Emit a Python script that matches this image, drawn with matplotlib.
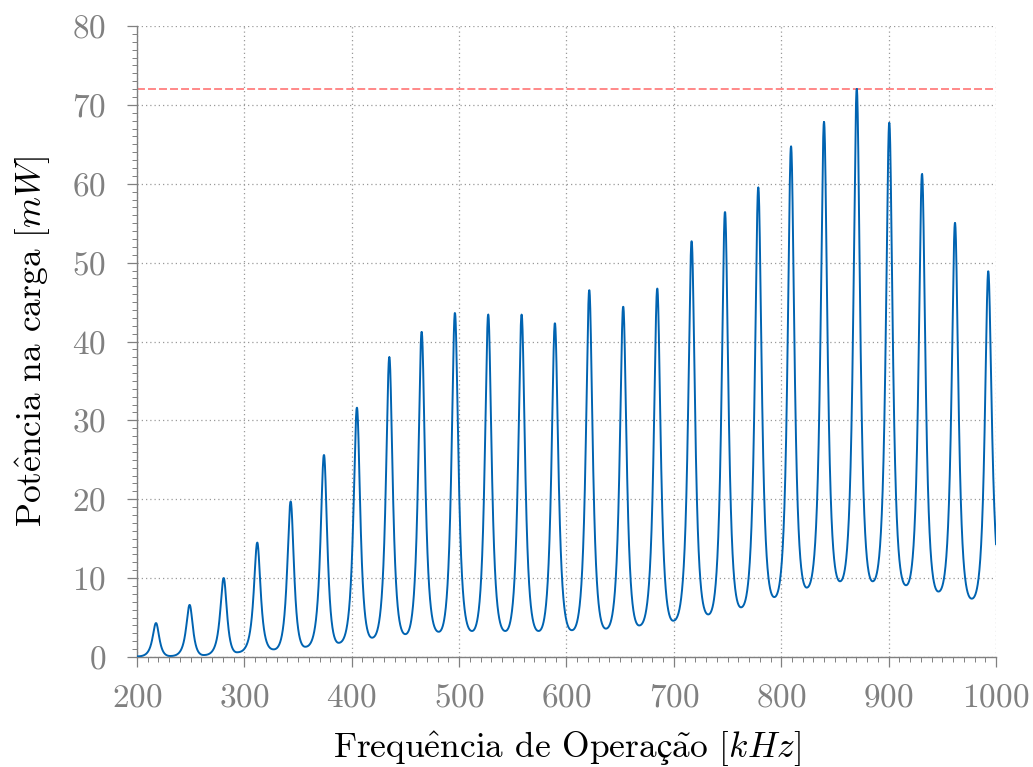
import numpy as np
import matplotlib
matplotlib.use("Agg")
import matplotlib.pyplot as plt
from matplotlib.ticker import MultipleLocator

plt.rcParams['font.family'] = ['cmr10', 'DejaVu Serif']
plt.rcParams['mathtext.fontset'] = 'cm'
plt.rcParams['axes.formatter.use_mathtext'] = True

# resonance peaks (kHz, mW)
peak_f = [217.7, 249.0, 280.7, 312.0, 343.1, 374.1, 404.8, 435.0, 465.1,
          496.1, 527.1, 558.2, 589.2, 621.2, 652.8, 684.5, 716.5, 747.6,
          778.6, 809.1, 839.8, 870.3, 900.6, 931.1, 961.8, 992.8]
peak_p = [4.3, 6.6, 10.0, 14.5, 19.7, 25.6, 31.6, 38.0, 41.2,
          43.6, 43.4, 43.4, 42.3, 46.5, 44.4, 46.7, 52.7, 56.4,
          59.5, 64.7, 67.8, 72.0, 67.7, 61.2, 55.0, 48.9]
# minima between consecutive peaks
valley_f = [231.0, 262.1, 293.1, 327.3, 356.7, 387.8, 418.9, 449.9, 481.0,
            512.0, 543.0, 574.0, 605.0, 636.7, 667.7, 699.4, 732.0, 762.5,
            793.5, 823.7, 854.7, 885.1, 916.2, 946.4, 977.4]
valley_p = [0.13, 0.25, 0.6, 0.97, 1.3, 1.8, 2.45, 2.9, 3.2,
            3.3, 3.3, 3.3, 3.4, 3.6, 4.0, 4.6, 5.4, 6.3,
            7.6, 8.8, 9.6, 9.6, 9.1, 8.3, 7.4]
start_f, start_p = 200.0, 0.08
end_f, end_p = 1000.0, 14.3
p_max = 72.0

GAMMA = 4.0  # half width of the resonance shape (kHz)


def lor(d, g=GAMMA):
    return 1.0 / (1.0 + (d / g) ** 2)


def half_peak(f, fp, P, fv, V):
    """Lorentzian flank from a peak down to a flat valley."""
    D = abs(fv - fp)
    d = np.abs(f - fp)
    L1 = lor(D)
    dL1 = -2 * D / GAMMA ** 2 / (1 + (D / GAMMA) ** 2) ** 2
    h = (lor(d) - L1 - dL1 * (d - D)) / (1 - L1 + dL1 * D)
    return V + (P - V) * h


freq = np.linspace(200, 1000, 6001)
power = np.zeros_like(freq)

vf = [start_f] + valley_f
vp = [start_p] + valley_p
for i, (fp, P) in enumerate(zip(peak_f, peak_p)):
    m = (freq >= vf[i]) & (freq <= fp)
    power[m] = half_peak(freq[m], fp, P, vf[i], vp[i])
    if i < len(valley_f):
        m = (freq > fp) & (freq <= valley_f[i])
        power[m] = half_peak(freq[m], fp, P, valley_f[i], valley_p[i])
    else:
        m = freq > fp
        D = end_f - fp
        d = freq[m] - fp
        power[m] = end_p + (P - end_p) * (lor(d) - lor(D)) / (1 - lor(D))

# make sure the sampled curve hits every peak value
freq = np.concatenate([freq, peak_f])
power = np.concatenate([power, peak_p])
order = np.argsort(freq)
freq, power = freq[order], power[order]

fig = plt.figure(figsize=(10.33, 7.67), dpi=100)
ax = fig.add_axes([0.1326, 0.1434, 0.8316, 0.8227])

gray = '#808080'
ax.grid(True, which='major', color='#9a9a9a', linestyle=(0, (1, 2.4)), linewidth=0.9)
ax.set_axisbelow(True)
ax.plot(freq, power, color='#0063B1', linewidth=1.4, zorder=3)
ax.axhline(p_max, color='#FF7F7F', linestyle=(0, (4.4, 1.7)), linewidth=1.3, zorder=2)

ax.set_xlim(200, 1000)
ax.set_ylim(0, 80)
ax.xaxis.set_major_locator(MultipleLocator(100))
ax.xaxis.set_minor_locator(MultipleLocator(10))
ax.yaxis.set_major_locator(MultipleLocator(10))
ax.yaxis.set_minor_locator(MultipleLocator(1))

for s in ['top', 'right']:
    ax.spines[s].set_visible(False)
for s in ['left', 'bottom']:
    ax.spines[s].set_color(gray)
    ax.spines[s].set_linewidth(1.0)

ax.tick_params(which='major', direction='out', length=7, width=0.9,
               color=gray, labelcolor=gray, labelsize=24)
ax.tick_params(which='minor', direction='out', length=3.5, width=0.7, color=gray)
ax.tick_params(axis='x', which='major', pad=12)
ax.tick_params(axis='y', which='major', pad=15)

ax.set_xlabel(r'Frequ$\mathrm{\hat{e}}$ncia de Opera$\mathrm{ç\tilde{a}}$o $[kHz]$',
              fontsize=25.5, labelpad=12)
ax.set_ylabel(r'Pot$\mathrm{\hat{e}}$ncia na carga $[mW]$', fontsize=25.5, labelpad=15)

fig.savefig('out.png', dpi=100)
